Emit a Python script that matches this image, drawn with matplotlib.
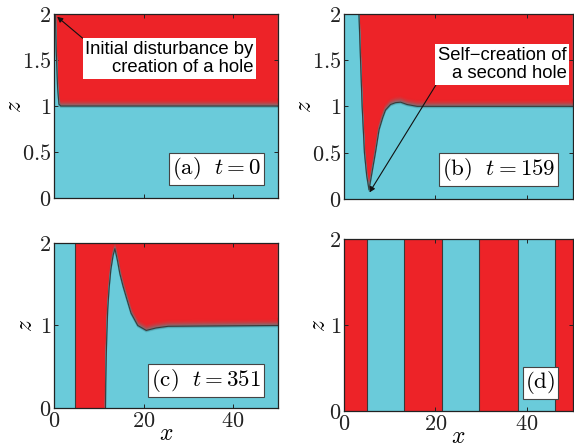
import matplotlib
matplotlib.use("Agg")
import matplotlib.pyplot as plt
import numpy as np
from matplotlib.transforms import offset_copy

plt.rcParams['mathtext.fontset'] = 'cm'
plt.rcParams['font.family'] = ['Liberation Sans', 'DejaVu Sans']

red = '#ED2328'
cyan = '#6ACBDA'
line_col = '#3a3a3a'

# interface z(x)
xa = [0.3, 0.5, 0.8, 1.1, 1.5, 50]
za = [2.0, 1.6, 1.2, 1.02, 1.0, 1.0]

xb = [3.3, 3.65, 4.0, 4.5, 5.0, 5.5, 6.2, 6.9, 7.7, 8.5, 9.1, 10.2, 11.3, 12.4, 13.8, 16.0, 20, 50]
zb = [2.0, 1.5, 1.0, 0.5, 0.25, 0.1, 0.3, 0.5, 0.75, 0.88, 0.96, 1.02, 1.04, 1.045, 1.02, 1.0, 1.0, 1.0]

xc_strip = 4.75
xc = [11.5, 11.55, 11.65, 11.8, 12.0, 12.3, 12.7, 13.2, 13.6, 14.2, 14.7, 15.4, 16.1, 17.2, 18.7, 20.6, 22.8, 25.5, 50]
zc = [0.0, 0.3, 0.6, 0.9, 1.2, 1.45, 1.68, 1.85, 1.93, 1.78, 1.63, 1.48, 1.35, 1.15, 1.0, 0.94, 0.97, 0.99, 1.0]

xd_bounds = [0, 5.0, 13.2, 21.4, 29.6, 38.1, 46.2, 50]

labels = [r'$\mathrm{(a)}\ \ t=0$', r'$\mathrm{(b)}\ \ t=159$', r'$\mathrm{(c)}\ \ t=351$', r'$\mathrm{(d)}$']
xticks = [0, 20, 40]
xticklabels = ['$0$', '$20$', '$40$']
yticks_top = [0, 0.5, 1, 1.5, 2]
yticklabels_top = ['$0$', '$0.5$', '$1$', '$1.5$', '$2$']
yticks_bot = [0, 1, 2]
yticklabels_bot = ['$0$', '$1$', '$2$']

fig = plt.figure(figsize=(5.74, 4.45), dpi=100)
axa = fig.add_axes([0.0941, 0.555, 0.390, 0.4135])
axb = fig.add_axes([0.599, 0.553, 0.399, 0.416])
axc = fig.add_axes([0.0941, 0.0831, 0.390, 0.371])
axd = fig.add_axes([0.599, 0.0764, 0.399, 0.3865])


def shade(ax, x, z, patch):
    # soft greyish band just above the interface, fading into red
    n = 12
    g = np.array([0.55, 0.40, 0.42])
    r = np.array(matplotlib.colors.to_rgb(red))
    for k in range(n, 0, -1):
        f = (k - 1) / (n - 1)
        w = (1 - f) ** 2
        c = g * w + r * (1 - w)
        tr = offset_copy(ax.transData, fig=fig, x=0, y=k * 0.42, units='points')
        ln, = ax.plot(x, z, transform=tr, color=c, lw=1.0, solid_capstyle='butt')
        ln.set_clip_path(patch)
    # slightly darker teal just below
    for k, c in [(2, '#5fb9c6'), (1, '#4f9fab')]:
        tr = offset_copy(ax.transData, fig=fig, x=0, y=-k * 0.5, units='points')
        ax.plot(x, z, transform=tr, color=c, lw=0.9, solid_capstyle='butt')


def style(ax, yt, ytl, showx, ylab_x):
    ax.set_xlim(0, 50)
    ax.set_ylim(0, 2)
    ax.set_xticks(xticks)
    ax.set_yticks(yt)
    ax.set_yticklabels(ytl)
    if showx:
        ax.set_xticklabels(xticklabels)
        ax.set_xlabel('$x$', fontsize=17, labelpad=-6)
    else:
        ax.set_xticklabels([])
    ax.set_ylabel('$z$', fontsize=17)
    ax.yaxis.set_label_coords(ylab_x, 0.5)
    ax.tick_params(direction='in', length=3, width=0.7, top=True, right=True,
                   labelsize=16, pad=2, colors='#222222')
    for s in ax.spines.values():
        s.set_linewidth(0.9)
        s.set_color('#222222')


def label(ax, txt):
    ax.text(0.925, 0.085, txt, transform=ax.transAxes, ha='right', va='bottom',
            fontsize=16.5, zorder=5,
            bbox=dict(fc='white', ec='#444444', lw=0.8, boxstyle='square,pad=0.12'))


# (a)
axa.fill([0, 50, 50, 0], [0, 0, 2, 2], color=cyan, lw=0)
pa = axa.fill(xa + [50], za + [2], color=red, lw=0)[0]
shade(axa, xa, za, pa)
axa.plot(xa, za, color=line_col, lw=0.8)
style(axa, yticks_top, yticklabels_top, False, -0.125)
label(axa, labels[0])
axa.annotate('Initial disturbance by\ncreation of a hole', xy=(0.7, 1.97), xytext=(44.6, 1.52),
             ha='right', va='center', fontsize=13.3, linespacing=1.1,
             bbox=dict(fc='white', ec='none', pad=2),
             arrowprops=dict(arrowstyle='-|>', color='#111111', lw=0.8, mutation_scale=8,
                             relpos=(0, 1), shrinkA=0, shrinkB=0))

# (b)
axb.fill([0, 50, 50, 0], [0, 0, 2, 2], color=cyan, lw=0)
pb = axb.fill(xb + [50], zb + [2], color=red, lw=0)[0]
shade(axb, xb, zb, pb)
axb.plot(xb, zb, color=line_col, lw=0.8)
style(axb, yticks_top, yticklabels_top, False, -0.122)
label(axb, labels[1])
axb.annotate('Self\u2212creation of\na second hole', xy=(5.6, 0.07), xytext=(48.6, 1.455),
             ha='right', va='center', fontsize=13.3, linespacing=1.1,
             bbox=dict(fc='white', ec='none', pad=2),
             arrowprops=dict(arrowstyle='-|>', color='#111111', lw=0.8, mutation_scale=8,
                             relpos=(0, 0), shrinkA=0, shrinkB=0))

# (c)
axc.fill([0, 50, 50, 0], [0, 0, 2, 2], color=cyan, lw=0)
pc = axc.fill([xc_strip] + xc + [50, xc_strip], [0] + zc + [2, 2], color=red, lw=0)[0]
shade(axc, xc, zc, pc)
axc.plot(xc, zc, color=line_col, lw=0.8)
axc.plot([xc_strip, xc_strip], [0, 2], color=line_col, lw=0.8)
style(axc, yticks_bot, yticklabels_bot, True, -0.076)
label(axc, labels[2])

# (d)
for i in range(len(xd_bounds) - 1):
    x0, x1 = xd_bounds[i], xd_bounds[i + 1]
    axd.fill([x0, x1, x1, x0], [0, 0, 2, 2], color=red if i % 2 == 0 else cyan, lw=0)
for xb_ in xd_bounds[1:-1]:
    axd.plot([xb_, xb_], [0, 2], color=line_col, lw=0.8)
style(axd, yticks_bot, yticklabels_bot, True, -0.062)
label(axd, labels[3])

fig.savefig('out.png', dpi=100)
